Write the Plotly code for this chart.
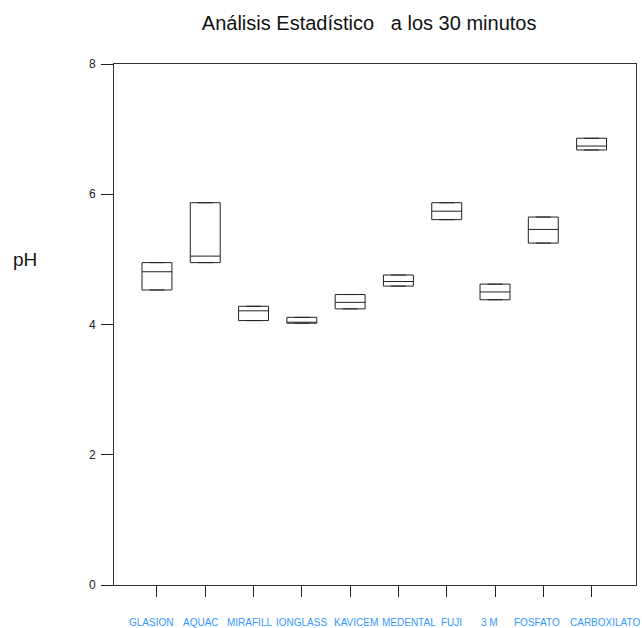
import plotly.graph_objects as go

categories = ["GLASION", "AQUAC", "MIRAFILL", "IONGLASS", "KAVICEM",
              "MEDENTAL", "FUJI", "3 M", "FOSFATO", "CARBOXILATO"]
q1_vals = [4.53, 4.95, 4.06, 4.02, 4.24, 4.59, 5.61, 4.38, 5.25, 6.68]
median_vals = [4.81, 5.05, 4.21, 4.03, 4.34, 4.66, 5.74, 4.50, 5.46, 6.74]
q3_vals = [4.95, 5.87, 4.28, 4.11, 4.46, 4.76, 5.87, 4.62, 5.65, 6.86]
y_ticks = [0, 2, 4, 6, 8]

# the original prints its category labels slightly off-centre (pixel nudges)
label_nudge_px = [-6, -4, -4, 0, 6, 11, 5, -6, -6, 13]

positions = list(range(len(categories)))

fig = go.Figure()
fig.add_trace(go.Box(
    x=positions,
    q1=q1_vals,
    median=median_vals,
    q3=q3_vals,
    lowerfence=q1_vals,
    upperfence=q3_vals,
    width=0.62,
    fillcolor="white",
    line=dict(color="#222222", width=1),
    hoverinfo="skip",
    showlegend=False,
))

annotations = [dict(
    text="pH", xref="paper", yref="paper",
    x=-0.17, y=0.624, xanchor="center", yanchor="middle",
    showarrow=False, font=dict(size=19, color="#111111"),
)]
for pos, name, nudge in zip(positions, categories, label_nudge_px):
    annotations.append(dict(
        text=name, xref="x", yref="paper", x=pos, y=0,
        xanchor="center", yanchor="middle", xshift=nudge, yshift=-37,
        showarrow=False, font=dict(size=10, color="#3399ff"),
    ))

fig.update_layout(
    width=642, height=628,
    margin=dict(l=114, r=6, t=64, b=43, autoexpand=False),
    paper_bgcolor="white",
    plot_bgcolor="white",
    font=dict(family="Arial, Liberation Sans, sans-serif"),
    title=dict(text="Análisis Estadístico   a los 30 minutos",
               x=0.575, xanchor="center", y=0.964, yanchor="middle",
               font=dict(size=20, color="#111111")),
    xaxis=dict(
        range=[-0.89, 9.92],
        tickmode="array", tickvals=positions, showticklabels=False,
        ticks="outside", ticklen=11, tickcolor="#222222", tickwidth=1,
        automargin=False,
        showline=True, linecolor="#333333", linewidth=1, mirror=True,
        showgrid=False, zeroline=False,
    ),
    yaxis=dict(
        range=[0, 8], automargin=False,
        tickmode="array", tickvals=y_ticks, ticktext=[str(v) for v in y_ticks],
        ticks="outside", ticklen=12, tickcolor="#222222", tickwidth=1,
        tickfont=dict(size=12, color="#222222"),
        ticklabelstandoff=3,
        showline=True, linecolor="#333333", linewidth=1, mirror=True,
        showgrid=False, zeroline=False,
    ),
    annotations=annotations,
)

fig.write_html("out.html")
